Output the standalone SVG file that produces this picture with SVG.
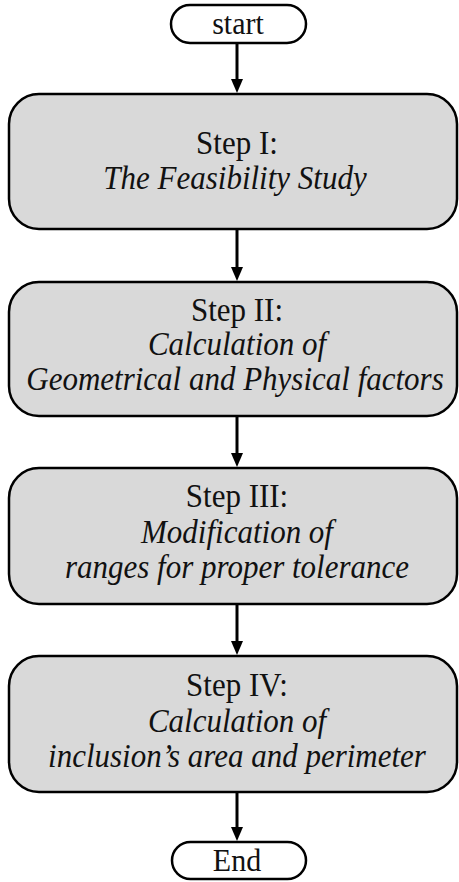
<svg xmlns="http://www.w3.org/2000/svg" width="459" height="882" viewBox="0 0 459 882">
<style>
.box{fill:#d9d9d9;stroke:#000;stroke-width:2.5}
.pill{fill:#fff;stroke:#000;stroke-width:2.5}
.t{font-family:"Liberation Serif","Times New Roman",serif;font-size:31px;fill:#111;text-anchor:middle}
.i{font-style:italic}
.p{font-size:30px}
.c{stroke:#000;stroke-width:3;fill:none}
</style>
<rect width="459" height="882" fill="#fff"/>
<g id="connectors">
<path class="c" d="M237,43 V80"/><path d="M231,79 L243,79 L237,93 Z"/>
<path class="c" d="M237,229 V268"/><path d="M231,267 L243,267 L237,281 Z"/>
<path class="c" d="M237,416 V454"/><path d="M231,453 L243,453 L237,467 Z"/>
<path class="c" d="M237,604 V642"/><path d="M231,641 L243,641 L237,655 Z"/>
<path class="c" d="M237,792 V828"/><path d="M231,827 L243,827 L237,841 Z"/>
</g>
<g id="start">
<rect class="pill" x="171" y="5" width="135" height="38" rx="19"/>
<text class="t p" transform="translate(238 34) scale(1 1.07)">start</text>
</g>
<g id="step1">
<rect class="box" x="9" y="94" width="448" height="135" rx="30"/>
<text class="t" transform="translate(237 154) scale(1 1.07)">Step I:</text>
<text class="t i" transform="translate(235 189) scale(1 1.07)">The Feasibility Study</text>
</g>
<g id="step2">
<rect class="box" x="9" y="282" width="448" height="134" rx="30"/>
<text class="t" transform="translate(237 321) scale(1 1.07)">Step II:</text>
<text class="t i" transform="translate(237 355) scale(1 1.07)">Calculation of</text>
<text class="t i" transform="translate(235 390) scale(1 1.07)">Geometrical and Physical factors</text>
</g>
<g id="step3">
<rect class="box" x="9" y="468" width="448" height="136" rx="30"/>
<text class="t" transform="translate(237 507) scale(1 1.07)">Step III:</text>
<text class="t i" transform="translate(237 543) scale(1 1.07)">Modification of</text>
<text class="t i" transform="translate(237 578) scale(1 1.07)">ranges for proper tolerance</text>
</g>
<g id="step4">
<rect class="box" x="9" y="656" width="448" height="136" rx="30"/>
<text class="t" transform="translate(237 696) scale(1 1.07)">Step IV:</text>
<text class="t i" transform="translate(237 732) scale(1 1.07)">Calculation of</text>
<text class="t i" transform="translate(237 767) scale(1 1.07)">inclusion’s area and perimeter</text>
</g>
<g id="end">
<rect class="pill" x="172" y="842" width="134" height="37" rx="18.5"/>
<text class="t p" transform="translate(237 871) scale(1 1.07)">End</text>
</g>
</svg>
